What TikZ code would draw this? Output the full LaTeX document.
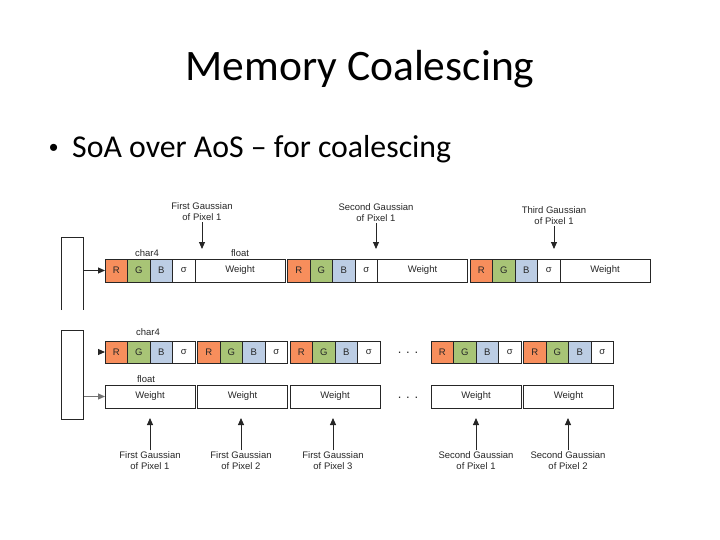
\documentclass[tikz,border=0pt]{standalone}
\usepackage{fontspec}
\setmainfont{Carlito}
\newfontfamily\diagfont{Liberation Sans}
\usetikzlibrary{positioning,arrows.meta}

\definecolor{rcol}{RGB}{247,142,92}
\definecolor{gcol}{RGB}{168,196,118}
\definecolor{bcol}{RGB}{188,205,228}

\begin{document}
\begin{tikzpicture}[x=1pt,y=-1pt,
  cell/.style={draw=black!85, line width=0.9pt, minimum width=22.5pt, minimum height=23pt, text=black!85,
    inner sep=0pt, outer sep=0pt, anchor=west, font=\diagfont\fontsize{9.5}{11}\selectfont},
  wcell/.style={cell, minimum width=90pt},
  note/.style={align=center, inner sep=1.5pt, text=black!85, font=\diagfont\fontsize{9.5}{11}\selectfont},
  arr/.style={-{Triangle[length=7pt,width=6pt]}, line width=0.9pt, draw=black!85}]
  \useasboundingbox (0,0) rectangle (720,540);

  % Slide text
  \node[anchor=base, font=\fontsize{43.5}{50}\selectfont] (title) at (360,81) {Memory Coalescing};
  \node[anchor=base west, inner sep=0pt, font=\diagfont\fontsize{26}{30}\selectfont] (dot) at (49,157) {•};
  \node[anchor=base west, inner sep=0pt, font=\fontsize{31.8}{36}\selectfont] (point) at (72,158) {SoA over AoS – for coalescing};

  % Array of structures
  \draw[line width=0.9pt, black!85] (61,310) -- (61,237) -- (83,237) -- (83,310);
  \coordinate (mem1) at (83,270.5);
  \foreach \i/\x in {1/105,2/287.5,3/470}{
    \node[cell, fill=rcol] (r\i) at (\x,270.5) {R};
    \node[cell, fill=gcol, right=0pt of r\i] (g\i) {G};
    \node[cell, fill=bcol, right=0pt of g\i] (b\i) {B};
    \node[cell, right=0pt of b\i] (s\i) {σ};
    \node[wcell, right=0pt of s\i] (w\i) {Weight};
  }
  \draw[arr] (mem1) -- (r1.west);
  \node[note] at (147,253) {char4};
  \node[note] at (240,253) {float};

  \node[note] (a1) at (202,211.5) {First Gaussian\\of Pixel 1};
  \node[note] (a2) at (376,212.5) {Second Gaussian\\of Pixel 1};
  \node[note] (a3) at (554,215.5) {Third Gaussian\\of Pixel 1};
  \foreach \i in {1,2,3}
    \draw[arr, shorten >=10pt] (a\i.south) -- (a\i.south |- r1.north);

  % Structure of arrays
  \node[draw=black!85, line width=0.9pt, minimum width=22pt, minimum height=89pt,
    inner sep=0pt, anchor=north west] (mem2) at (61,330) {};
  \foreach \i/\x in {1/105,2/197.5,3/290,4/431,5/523.5}{
    \node[cell, fill=rcol, minimum height=22pt] (cr\i) at (\x,352) {R};
    \node[cell, fill=gcol, minimum height=22pt, right=0pt of cr\i] (cg\i) {G};
    \node[cell, fill=bcol, minimum height=22pt, right=0pt of cg\i] (cb\i) {B};
    \node[cell, minimum height=22pt, right=0pt of cb\i] (cs\i) {σ};
    \node[wcell] (wb\i) at (\x,396.5) {Weight};
  }
  \node[note, font=\diagfont\fontsize{13}{14}\selectfont] (dots1) at (408,353) {. . .};
  \node[note, font=\diagfont\fontsize{13}{14}\selectfont] (dots2) at (408,398) {. . .};
  \coordinate (tip) at (98,352);
  \draw[arr] (tip) -- (cr1.west);
  \draw[arr, draw=black!55] (mem2.east |- wb1.west) -- (wb1.west);
  \node[note] at (148,332) {char4};
  \node[note] at (146,379) {float};

  \node[note] (p1) at (150,461) {First Gaussian\\of Pixel 1};
  \node[note] (p2) at (241,461) {First Gaussian\\of Pixel 2};
  \node[note] (p3) at (333,461) {First Gaussian\\of Pixel 3};
  \node[note] (p4) at (476,461) {Second Gaussian\\of Pixel 1};
  \node[note] (p5) at (568,461) {Second Gaussian\\of Pixel 2};
  \foreach \i in {1,...,5}
    \draw[arr, shorten >=10pt] (p\i.north) -- (p\i.north |- wb1.south);
\end{tikzpicture}
\end{document}
